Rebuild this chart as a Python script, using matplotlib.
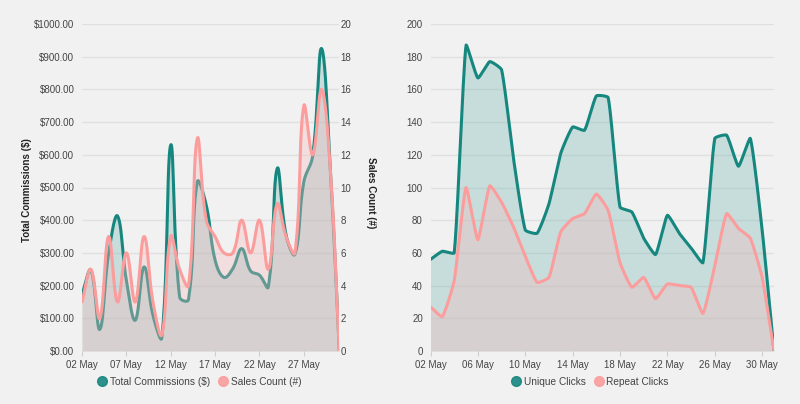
import numpy as np
import matplotlib
matplotlib.use("Agg")
import matplotlib.pyplot as plt
from matplotlib.lines import Line2D

# ---------------- data ----------------
dates = [f"{d:02d} May" for d in range(2, 32)]
commissions = [173, 247, 66, 298, 413, 216, 94, 257, 109, 41, 630, 165, 157, 517, 446,
               278, 225, 252, 313, 245, 232, 196, 558, 354, 296, 517, 597, 925, 550, 0]
sales_count = [3, 5, 2, 7, 3, 6, 3, 7, 3, 1, 7, 5, 4, 13, 8,
               7, 6, 6, 8, 6, 8, 5, 9, 7, 6, 15, 12, 16, 11, 0]
unique_clicks = [56, 61, 60, 187, 167, 177, 172, 118, 74, 72, 90, 121, 137, 135, 156,
                 155, 88, 85, 69, 59, 83, 72, 63, 54, 130, 132, 113, 130, 74, 0]
repeat_clicks = [27, 21, 43, 100, 68, 101, 91, 76, 58, 42, 45, 73, 81, 84, 96,
                 86, 54, 39, 45, 32, 41, 40, 39, 23, 52, 84, 75, 69, 45, 0]

left_ticks = ["02 May", "07 May", "12 May", "17 May", "22 May", "27 May"]
right_ticks = ["02 May", "06 May", "10 May", "14 May", "18 May", "22 May", "26 May", "30 May"]

# ---------------- style ----------------
BG = "#f1f1f1"
TEAL = "#16877f"
PINK = "#fc9d9d"
TEAL_FILL = (77 / 255, 165 / 255, 161 / 255, 0.25)
PINK_FILL = (244 / 255, 187 / 255, 187 / 255, 0.35)
GRID = "#e0e0e0"
TICKC = "#444444"
FONT = "Liberation Sans"
FS = 7.0

plt.rcParams["font.family"] = [FONT, "DejaVu Sans"]


def smooth(ys, sx, sy, tension, ymax, n=24):
    """Chart.js-like bezier smoothing (visual rendering only)."""
    ys = np.asarray(ys, float)
    xs = np.arange(len(ys), dtype=float)
    px, py = xs * sx, ys * sy
    N = len(ys)
    cpp = np.zeros((N, 2))
    cpn = np.zeros((N, 2))
    for i in range(N):
        p0 = (px[max(i - 1, 0)], py[max(i - 1, 0)])
        p1 = (px[i], py[i])
        p2 = (px[min(i + 1, N - 1)], py[min(i + 1, N - 1)])
        d01 = np.hypot(p1[0] - p0[0], p1[1] - p0[1])
        d12 = np.hypot(p2[0] - p1[0], p2[1] - p1[1])
        tot = d01 + d12
        s01 = d01 / tot if tot else 0
        s12 = d12 / tot if tot else 0
        fa, fb = tension * s01, tension * s12
        cpp[i] = (p1[0] - fa * (p2[0] - p0[0]), p1[1] - fa * (p2[1] - p0[1]))
        cpn[i] = (p1[0] + fb * (p2[0] - p0[0]), p1[1] + fb * (p2[1] - p0[1]))
    lo, hi = 0.0, ymax * sy
    cpp[:, 1] = np.clip(cpp[:, 1], lo, hi)
    cpn[:, 1] = np.clip(cpn[:, 1], lo, hi)
    t = np.linspace(0, 1, n)[:, None]
    out = []
    for i in range(N - 1):
        a = np.array([px[i], py[i]])
        b = cpn[i]
        c = cpp[i + 1]
        d = np.array([px[i + 1], py[i + 1]])
        seg = ((1 - t) ** 3) * a + 3 * ((1 - t) ** 2) * t * b + 3 * (1 - t) * t ** 2 * c + t ** 3 * d
        out.append(seg if i == 0 else seg[1:])
    out = np.vstack(out)
    return out[:, 0] / sx, out[:, 1] / sy


fig = plt.figure(figsize=(8.0, 4.04), dpi=100, facecolor=BG)

W, H = 800.0, 404.0


def style_axis(ax, ymax, step, fmt, xticks_pos, xticks_lab):
    ax.set_facecolor(BG)
    for s in ax.spines.values():
        s.set_visible(False)
    ax.set_ylim(0, ymax)
    ax.set_yticks(np.arange(0, ymax + step / 2, step))
    ax.set_yticklabels([fmt(v) for v in np.arange(0, ymax + step / 2, step)])
    ax.yaxis.grid(True, color=GRID, linewidth=1.0)
    ax.set_axisbelow(True)
    ax.tick_params(axis="y", length=0, pad=5.5, labelsize=FS, labelcolor=TICKC)
    ax.set_xticks(xticks_pos)
    ax.set_xticklabels(xticks_lab)
    ax.tick_params(axis="x", length=3.5, width=0.8, color="#cfcfcf", pad=3.0,
                   labelsize=FS, labelcolor=TICKC)


# ---------------- left chart ----------------
axL = fig.add_axes([82 / W, (H - 351) / H, (339.3 - 82) / W, (351 - 24) / H])
n = len(dates)
axL.set_xlim(0, n - 1)
lpos = [dates.index(d) for d in left_ticks]
style_axis(axL, 1000, 100, lambda v: f"${v:.2f}", lpos, left_ticks)

sxL = (339.3 - 82) / (n - 1)
xs, ys = smooth(commissions, sxL, 327 / 1000, 0.4, 1000)
axL.fill_between(xs, ys, 0, color=TEAL_FILL, linewidth=0)
axL.plot(xs, ys, color=TEAL, lw=2.2, solid_capstyle="round", solid_joinstyle="round")

axR2 = axL.twinx()
axR2.set_xlim(0, n - 1)
for s in axR2.spines.values():
    s.set_visible(False)
axR2.set_ylim(0, 20)
axR2.set_yticks(np.arange(0, 21, 2))
axR2.tick_params(axis="y", length=0, pad=1.0, labelsize=FS, labelcolor=TICKC)
xs, ys = smooth(sales_count, sxL, 327 / 20, 0.4, 20)
axR2.fill_between(xs, ys, 0, color=PINK_FILL, linewidth=0)
axR2.plot(xs, ys, color=PINK, lw=2.2, solid_capstyle="round", solid_joinstyle="round")

fig.text(27.5 / W, (H - 190) / H, "Total Commissions ($)", rotation=90, ha="center",
         va="center", fontsize=FS, fontweight="bold", color="#222222")
fig.text(371 / W, (H - 193) / H, "Sales Count (#)", rotation=270, ha="center",
         va="center", fontsize=FS, fontweight="bold", color="#222222")

# ---------------- right chart ----------------
axC = fig.add_axes([430.5 / W, (H - 351) / H, (774 - 430.5) / W, (351 - 24) / H])
axC.set_xlim(0, n - 1)
rpos = [dates.index(d) for d in right_ticks]
style_axis(axC, 200, 20, lambda v: f"{int(v)}", rpos, right_ticks)
sxR = (774 - 430.5) / (n - 1)
xs, ys = smooth(unique_clicks, sxR, 327 / 200, 0.15, 200)
axC.fill_between(xs, ys, 0, color=TEAL_FILL, linewidth=0)
axC.plot(xs, ys, color=TEAL, lw=2.2, solid_capstyle="round", solid_joinstyle="round")
xs, ys = smooth(repeat_clicks, sxR, 327 / 200, 0.15, 200)
axC.fill_between(xs, ys, 0, color=PINK_FILL, linewidth=0)
axC.plot(xs, ys, color=PINK, lw=2.2, solid_capstyle="round", solid_joinstyle="round")

# ---------------- legends ----------------
def handle(c):
    return Line2D([], [], marker="o", linestyle="none", markersize=7.0,
                  markerfacecolor=c, markeredgecolor=c, alpha=0.9)


fig.legend([handle(TEAL), handle(PINK)], ["Total Commissions ($)", "Sales Count (#)"],
           loc="center", bbox_to_anchor=(199 / W, (H - 382) / H), ncol=2, frameon=False,
           fontsize=FS + 0.3, handletextpad=0.25, columnspacing=0.8,
           handlelength=1.0, labelcolor="#444444")
fig.legend([handle(TEAL), handle(PINK)], ["Unique Clicks", "Repeat Clicks"],
           loc="center", bbox_to_anchor=(590 / W, (H - 382) / H), ncol=2, frameon=False,
           fontsize=FS + 0.3, handletextpad=0.25, columnspacing=0.8,
           handlelength=1.0, labelcolor="#444444")

fig.savefig("out.png", dpi=100, facecolor=BG)
